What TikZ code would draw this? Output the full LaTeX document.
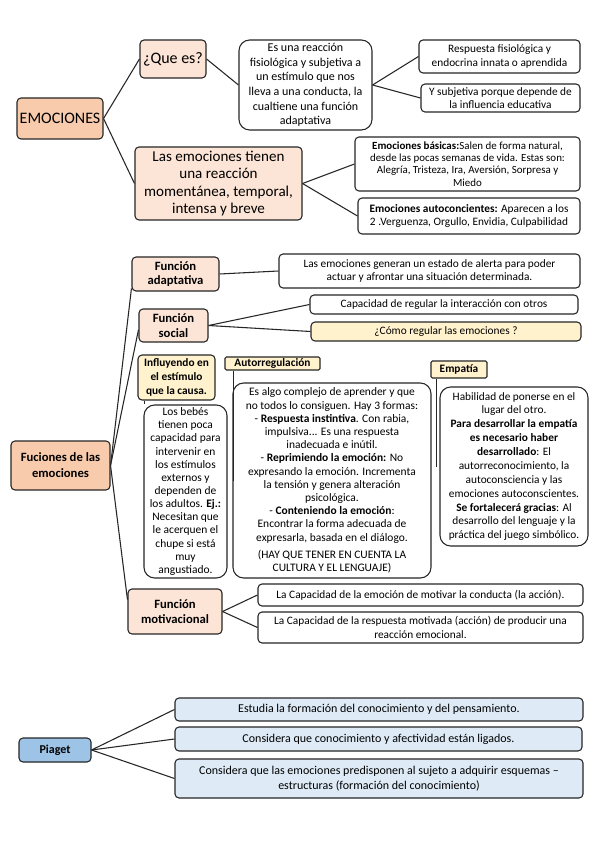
\documentclass[tikz,border=0pt]{standalone}
\usepackage{fontspec}
\setmainfont{Carlito}
\hyphenpenalty=10000
\exhyphenpenalty=10000
\definecolor{peachD}{HTML}{F8CBAD}
\definecolor{peachL}{HTML}{FCE4D6}
\definecolor{yel}{HTML}{FFF2CC}
\definecolor{blueD}{HTML}{9DC3E6}
\definecolor{blueL}{HTML}{DEEBF7}
\definecolor{edgec}{HTML}{262626}
\tikzset{
  bxs/.style={draw=edgec, line width=0.8pt, rounded corners=3pt, align=center,
    inner xsep=1pt, inner ysep=0pt, font=\fontsize{8.5}{10}\selectfont},
  bigr/.style={rounded corners=8pt},
  pD/.style={fill=peachD},
  pL/.style={fill=peachL},
  yl/.style={fill=yel},
  bD/.style={fill=blueD},
  bL/.style={fill=blueL},
  conn/.style={draw=edgec, line width=0.8pt},
}
\newcommand\mybox[7]{%
  \pgfmathsetmacro\bxw{(#4-#2)*0.75}%
  \pgfmathsetmacro\bxh{(#5-#3)*0.75}%
  \node[bxs,minimum width=\bxw pt,minimum height=\bxh pt,#6] (#1) at ({(#2+#4)/2},{(#3+#5)/2}) {#7};}
\begin{document}
\begin{tikzpicture}[x=0.75pt,y=-0.75pt]
\fill[white] (0,0) rectangle (599,848);
\useasboundingbox (0,0) rectangle (599,848);

\mybox{emo}{17}{98}{103}{139}{pD,font=\fontsize{12}{14}\selectfont}{EMOCIONES}
\mybox{que}{140}{40}{206}{78}{pL,font=\fontsize{12}{14}\selectfont}{¿Que es?}
\mybox{reac}{239}{40}{372}{130}{bigr,font=\fontsize{9}{11}\selectfont}{Es una reacción\\fisiológica y subjetiva a\\un estímulo que nos\\lleva a una conducta, la\\cualtiene una función\\adaptativa}
\mybox{resp}{419}{40}{580}{73}{}{Respuesta fisiológica y\\endocrina innata o aprendida}
\mybox{subj}{421}{84}{580}{112}{}{Y subjetiva porque depende de\\la influencia educativa}
\mybox{tien}{135}{147}{302}{220}{pL,font=\fontsize{11.3}{12.8}\selectfont}{Las emociones tienen\\una reacción\\momentánea, temporal,\\intensa y breve}
\mybox{basi}{355}{137}{580}{191}{font=\fontsize{8.2}{9.3}\selectfont}{\textbf{Emociones básicas:}Salen de forma natural,\\desde las pocas semanas de vida. Estas son:\\Alegría, Tristeza, Ira, Aversión, Sorpresa y\\Miedo}
\mybox{auto}{358}{198}{580}{234}{}{\textbf{Emociones autoconcientes:} Aparecen a los\\2 .Verguenza, Orgullo, Envidia, Culpabilidad}

\mybox{fadap}{132}{257}{219}{291}{pL,font=\bfseries\fontsize{9.5}{11}\selectfont}{Función\\adaptativa}
\mybox{gene}{279}{254}{580}{288}{}{Las emociones generan un estado de alerta para poder\\actuar y afrontar una situación determinada.}
\mybox{fsoc}{139}{309}{208}{342}{pL,font=\bfseries\fontsize{9.5}{11}\selectfont}{Función\\social}
\mybox{capa}{310}{295}{578}{314}{}{Capacidad de regular la interacción con otros}
\mybox{como}{311}{322}{581}{341}{yl}{¿Cómo regular las emociones ?}
\mybox{infl}{138}{355}{215}{400}{yl,font=\bfseries\fontsize{8.5}{10.5}\selectfont}{Influyendo en\\el estímulo\\que la causa.}
\mybox{autr}{225}{357}{320}{370}{yl,rounded corners=1pt,font=\bfseries\fontsize{8.5}{9}\selectfont}{Autorregulación}
\mybox{empa}{431}{361}{487}{378}{yl,rounded corners=1pt,font=\bfseries\fontsize{8.5}{9}\selectfont}{Empatía}
\mybox{bebe}{144}{405}{227}{578}{bigr,font=\fontsize{8.6}{9.85}\selectfont}{Los bebés\\tienen poca\\capacidad para\\intervenir en\\los estímulos\\externos y\\dependen de\\los adultos. \textbf{Ej.:}\\Necesitan que\\le acerquen el\\chupe si está\\muy\\angustiado.}
\mybox{algo}{233}{383}{431}{578}{bigr,font=\fontsize{8.6}{9.9}\selectfont}{Es algo complejo de aprender y que\\no todos lo consiguen. Hay 3 formas:\\- \textbf{Respuesta instintiva}. Con rabia,\\impulsiva... Es una respuesta\\inadecuada e inútil.\\- \textbf{Reprimiendo la emoción:} No\\expresando la emoción. Incrementa\\la tensión y genera alteración\\psicológica.\\- \textbf{Conteniendo la emoción}:\\Encontrar la forma adecuada de\\expresarla, basada en el diálogo.\\[3pt](HAY QUE TENER EN CUENTA LA\\CULTURA Y EL LENGUAJE)}
\mybox{habi}{440}{387}{588}{546}{bigr,font=\fontsize{8.5}{10.4}\selectfont}{Habilidad de ponerse en el\\lugar del otro.\\\textbf{Para desarrollar la empatía}\\\textbf{es necesario haber}\\\textbf{desarrollado}: El\\autorreconocimiento, la\\autoconsciencia y las\\emociones autoconscientes.\\\textbf{Se fortalecerá gracias}: Al\\desarrollo del lenguaje y la\\práctica del juego simbólico.}
\mybox{fuci}{11}{441}{110}{490}{pD,font=\bfseries\fontsize{9.5}{12}\selectfont}{Fuciones de las\\emociones}
\mybox{fmot}{128}{589}{222}{634}{pL,font=\bfseries\fontsize{9.5}{11.5}\selectfont}{Función\\motivacional}
\mybox{cap1}{258}{584}{583}{606}{}{La Capacidad de la emoción de motivar la conducta (la acción).}
\mybox{cap2}{258}{612}{583}{643}{}{La Capacidad de la respuesta motivada (acción) de producir una\\reacción emocional.}

\mybox{piag}{19}{738}{91}{762}{bD,font=\bfseries\fontsize{9}{11}\selectfont}{Piaget}
\mybox{estu}{175}{698}{583}{721}{bL,font=\fontsize{9}{11}\selectfont}{Estudia la formación del conocimiento y del pensamiento.}
\mybox{con1}{175}{727}{582}{751}{bL,font=\fontsize{9}{11}\selectfont}{Considera que conocimiento y afectividad están ligados.}
\mybox{con2}{175}{759}{583}{798}{bL,font=\fontsize{9}{11}\selectfont}{Considera que las emociones predisponen al sujeto a adquirir esquemas –\\estructuras (formación del conocimiento)}

% connectors
\draw[conn] (emo.east) -- (que.west);
\draw[conn] (emo.east) -- (tien.west);
\draw[conn] (que.east) -- (reac.west);
\draw[conn] (reac.east) -- (resp.west);
\draw[conn] (reac.east) -- (subj.west);
\draw[conn] (tien.east) -- (basi.west);
\draw[conn] (tien.east) -- (auto.west);

\draw[conn] (fuci.east) -- (fadap.198);
\draw[conn] (fuci.east) -- (fsoc.187);
\draw[conn] (fuci.east) -- (fmot.166);
\draw[conn] (fadap.east) -- (gene.west);
\draw[conn] (fsoc.east) -- (capa.west);
\draw[conn] (fsoc.east) -- (como.west);
\draw[conn] (fmot.east) -- (cap1.west);
\draw[conn] (fmot.east) -- (cap2.west);

\draw[conn] ([xshift=5.25pt]infl.south west) -- ([xshift=5.25pt]infl.south west |- bebe.north);
\coordinate (autrEnd) at ([xshift=6.75pt]autr.south west |- algo.west);
\draw[conn] ([xshift=6.75pt]autr.south west) -- (autrEnd);
\coordinate (empaEnd) at ([xshift=4.5pt]empa.south west |- habi.west);
\draw[conn] ([xshift=4.5pt]empa.south west) -- (empaEnd);

\draw[conn] (piag.east) -- (estu.west);
\draw[conn] (piag.east) -- (con1.west);
\draw[conn] (piag.east) -- (con2.west);
\end{tikzpicture}
\end{document}
